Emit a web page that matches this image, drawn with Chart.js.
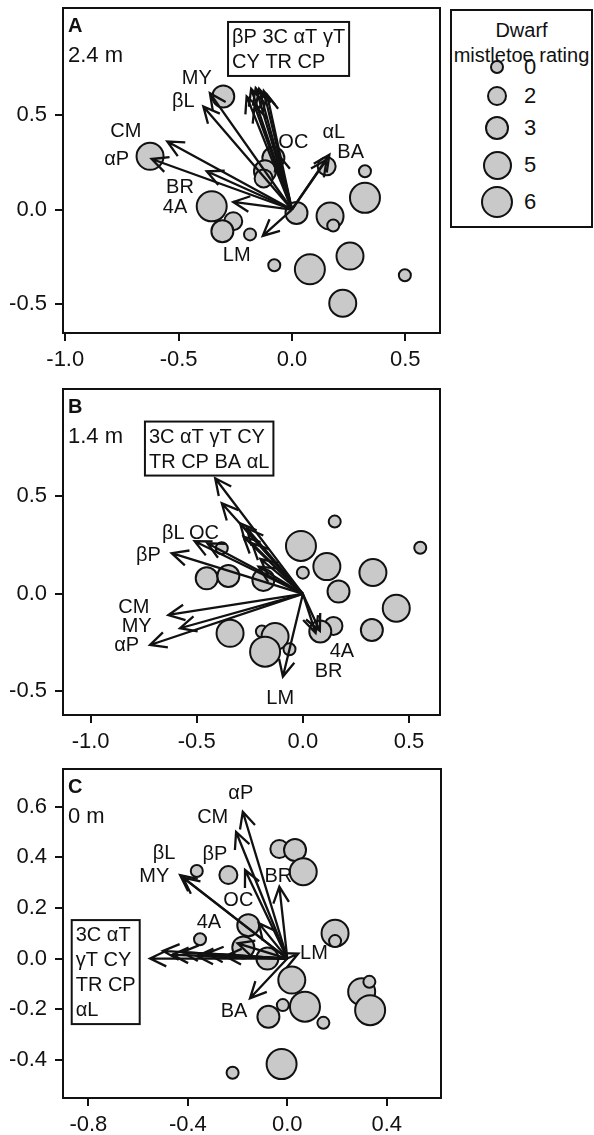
<!DOCTYPE html>
<html>
<head>
<meta charset="utf-8">
<script src="https://cdn.jsdelivr.net/npm/chart.js@4/dist/chart.umd.min.js"></script>
<style>
  body { margin: 0; background: #fff; width: 594px; height: 1135px; position: relative; overflow: hidden;
         font-family: 'Liberation Sans', Arial, sans-serif; color: #111; }
  canvas { position: absolute; left: 0; }
  #legend { position: absolute; left: 450px; top: 9px; width: 143px; height: 219px; box-sizing: border-box;
            border: 2px solid #111; }
  #legend .t { position: absolute; left: 0; width: 100%; text-align: center; font-size: 20px; line-height: 24px; }
  #legend .dot { position: absolute; box-sizing: border-box; border: 2px solid #111; border-radius: 50%; background: #c9c9c9; }
  #legend .n { position: absolute; left: 72px; font-size: 22px; line-height: 26px; }
</style>
</head>
<body>
<canvas id="chartA" width="450" height="372" style="top:0px"></canvas>
<canvas id="chartB" width="450" height="372" style="top:380px"></canvas>
<canvas id="chartC" width="450" height="375" style="top:760px"></canvas>
<div id="legend"></div>
<script>
// variable names, same order for every panel's vectors
const vecNames = ['3C', 'αT', 'γT', 'CY', 'TR', 'CP', 'βP', 'αL', 'BA', 'MY', 'βL', 'CM', 'αP', 'BR', '4A', 'LM', 'OC'];
const legendRatings = [0, 2, 3, 5, 6];

// A: 2.4 m
const treeA_x = [-0.303, -0.626, -0.082, -0.119, -0.125, 0.153, 0.322, 0.322, 0.02, 0.168, 0.182, -0.354, -0.259, -0.307, -0.185, -0.078, 0.079, 0.256, 0.498, 0.224];
const treeA_y = [0.60, 0.282, 0.273, 0.203, 0.165, 0.229, 0.203, 0.062, -0.018, -0.035, -0.085, 0.017, -0.062, -0.115, -0.132, -0.296, -0.317, -0.247, -0.349, -0.497];
const treeA_rating = [3, 5, 3, 3, 2, 2, 0, 6, 3, 5, 0, 6, 2, 3, 0, 0, 6, 5, 0, 5];
const vecA_x = [-0.18, -0.16, -0.145, -0.125, -0.11, -0.165, -0.20, 0.165, 0.153, -0.362, -0.391, -0.55, -0.619, -0.376, -0.259, -0.129, -0.06];
const vecA_y = [0.64, 0.645, 0.64, 0.63, 0.61, 0.55, 0.60, 0.291, 0.265, 0.617, 0.547, 0.361, 0.268, 0.203, 0.04, -0.14, 0.29];
const labA_text = ['MY', 'βL', 'CM', 'αP', 'BR', '4A', 'LM', 'OC', 'αL', 'BA'];
const labA_x = [-0.42, -0.479, -0.733, -0.773, -0.494, -0.516, -0.244, 0.006, 0.185, 0.259];
const labA_y = [0.697, 0.573, 0.414, 0.268, 0.115, 0.009, -0.243, 0.356, 0.409, 0.303];
const boxA_lines = ['βP 3C αT γT', 'CY TR CP'];
const boxA_at = [-0.282, 0.995];

// B: 1.4 m
const treeB_x = [0.15, 0.553, -0.009, 0.113, 0.0, 0.33, 0.168, 0.44, 0.325, 0.144, 0.082, -0.343, -0.193, -0.131, -0.178, -0.063, -0.453, -0.351, -0.382, -0.186];
const treeB_y = [0.371, 0.237, 0.246, 0.14, 0.109, 0.11, 0.012, -0.073, -0.185, -0.164, -0.193, -0.202, -0.193, -0.219, -0.296, -0.284, 0.08, 0.092, 0.234, 0.072];
const treeB_rating = [0, 0, 6, 5, 0, 5, 3, 5, 3, 2, 3, 5, 0, 5, 6, 0, 3, 3, 0, 3];
const vecB_x = [-0.413, -0.382, -0.296, -0.264, -0.28, -0.24, -0.618, -0.20, -0.209, -0.579, -0.51, -0.634, -0.72, 0.06, 0.08, -0.094, -0.45];
const vecB_y = [0.593, 0.465, 0.362, 0.337, 0.294, 0.26, 0.209, 0.18, 0.14, -0.176, 0.27, -0.108, -0.262, -0.2, -0.19, -0.424, 0.26];
const labB_text = ['βL', 'OC', 'βP', 'CM', 'MY', 'αP', '4A', 'BR', 'LM'];
const labB_x = [-0.61, -0.466, -0.728, -0.796, -0.783, -0.83, 0.184, 0.121, -0.107];
const labB_y = [0.311, 0.311, 0.196, -0.07, -0.168, -0.267, -0.296, -0.398, -0.535];
const boxB_lines = ['3C αT γT CY', 'TR CP BA αL'];
const boxB_at = [-0.744, 0.884];

// C: 0 m
const treeC_x = [-0.032, 0.031, 0.064, -0.364, -0.237, -0.157, -0.177, -0.351, -0.08, 0.018, 0.192, 0.192, 0.299, 0.33, 0.333, 0.071, -0.018, -0.076, 0.145, -0.023, -0.22];
const treeC_y = [0.433, 0.429, 0.343, 0.346, 0.33, 0.132, 0.044, 0.076, 0.0, -0.085, 0.1, 0.069, -0.131, -0.092, -0.204, -0.19, -0.184, -0.23, -0.254, -0.417, -0.451];
const treeC_rating = [2, 3, 5, 0, 2, 3, 3, 0, 3, 5, 5, 0, 5, 0, 6, 6, 0, 3, 0, 6, 0];
const vecC_x = [-0.552, -0.50, -0.463, -0.423, -0.363, -0.323, -0.17, -0.25, -0.15, -0.431, -0.42, -0.206, -0.179, -0.032, -0.20, 0.044, -0.115];
const vecC_y = [0.0, 0.03, 0.015, 0.025, 0.01, 0.02, 0.35, 0.01, -0.157, 0.33, 0.32, 0.50, 0.58, 0.284, 0.06, 0.02, 0.14];
const labC_text = ['αP', 'CM', 'βL', 'βP', 'MY', 'BR', 'OC', '4A', 'LM', 'BA'];
const labC_x = [-0.187, -0.3, -0.496, -0.291, -0.535, -0.036, -0.197, -0.315, 0.107, -0.214];
const labC_y = [0.653, 0.558, 0.416, 0.413, 0.326, 0.326, 0.228, 0.142, 0.02, -0.21];
const boxC_lines = ['3C αT', 'γT CY', 'TR CP', 'αL'];
const boxC_at = [-0.867, 0.152];

// ticks
const xTicksAB = [-1.0, -0.5, 0.0, 0.5];
const xTickLabelsAB = ['-1.0', '-0.5', '0.0', '0.5'];
const yTicksAB = [-0.5, 0.0, 0.5];
const yTickLabelsAB = ['-0.5', '0.0', '0.5'];
const xTicksC = [-0.8, -0.4, 0.0, 0.4];
const xTickLabelsC = ['-0.8', '-0.4', '0.0', '0.4'];
const yTicksC = [-0.4, -0.2, 0.0, 0.2, 0.4, 0.6];
const yTickLabelsC = ['-0.4', '-0.2', '0.0', '0.2', '0.4', '0.6'];

const radius = { 0: 6, 2: 9, 3: 11, 5: 13.5, 6: 15 };
const INK = '#111';
const FILL = '#c9c9c9';
const FONT = "'Liberation Sans', Arial, sans-serif";

Chart.defaults.font.family = FONT;
Chart.defaults.color = INK;
// keep the plot box where the axes put it, bubbles may touch the frame
Chart.BubbleController.prototype.getMaxOverflow = function () { return 0; };

function makeBiplot(p) {
  return {
    id: 'biplot',
    afterDatasetsDraw(chart) {
      const { ctx, chartArea: a, scales: { x, y } } = chart;
      ctx.save();
      ctx.strokeStyle = INK;
      ctx.lineWidth = 2.3;
      const x0 = x.getPixelForValue(0), y0 = y.getPixelForValue(0);
      p.vx.forEach((vx, i) => {
        const px = x.getPixelForValue(vx), py = y.getPixelForValue(p.vy[i]);
        const ang = Math.atan2(py - y0, px - x0);
        const hl = 18, sp = 0.45;
        ctx.beginPath();
        ctx.moveTo(x0, y0);
        ctx.lineTo(px, py);
        ctx.moveTo(px - hl * Math.cos(ang - sp), py - hl * Math.sin(ang - sp));
        ctx.lineTo(px, py);
        ctx.lineTo(px - hl * Math.cos(ang + sp), py - hl * Math.sin(ang + sp));
        ctx.stroke();
      });

      ctx.lineWidth = 2;
      ctx.fillStyle = INK;
      ctx.font = '20px ' + FONT;
      ctx.textAlign = 'center';
      ctx.textBaseline = 'middle';
      p.labText.forEach((t, i) => {
        ctx.fillText(t, x.getPixelForValue(p.labX[i]), y.getPixelForValue(p.labY[i]));
      });

      // boxed group of labels
      const bx = x.getPixelForValue(p.boxAt[0]), by = y.getPixelForValue(p.boxAt[1]);
      const bw = Math.max(...p.boxLines.map(l => ctx.measureText(l).width)) + 8;
      const bh = p.boxLines.length * 25 + 4;
      ctx.fillStyle = '#fff';
      ctx.fillRect(bx, by, bw, bh);
      ctx.strokeRect(bx, by, bw, bh);
      ctx.fillStyle = INK;
      ctx.textAlign = 'left';
      p.boxLines.forEach((l, i) => ctx.fillText(l, bx + 4, by + 3 + 25 * (i + 0.5)));

      // frame, panel letter and height
      ctx.strokeRect(a.left, a.top, a.right - a.left, a.bottom - a.top);
      ctx.textBaseline = 'alphabetic';
      ctx.font = 'bold 20px ' + FONT;
      ctx.fillText(p.letter, a.left + 5, a.top + 24);
      ctx.font = '22px ' + FONT;
      ctx.fillText(p.depth, a.left + 5, a.top + 54);
      ctx.restore();
    }
  };
}

function makePanel(id, p) {
  const pts = p.tx.map((v, i) => ({ x: v, y: p.ty[i], r: radius[p.rating[i]] }));
  const tickFont = { size: 22 };
  return new Chart(document.getElementById(id), {
    type: 'bubble',
    data: {
      datasets: [{
        data: pts,
        backgroundColor: FILL,
        borderColor: INK,
        borderWidth: 2
      }]
    },
    options: {
      responsive: false,
      animation: false,
      layout: { padding: { top: p.padTop, right: p.padRight, left: 0, bottom: 0 } },
      scales: {
        x: {
          type: 'linear', min: p.xMin, max: p.xMax,
          afterBuildTicks: s => { s.ticks = p.xTicks.map(v => ({ value: v })); },
          afterFit: s => { s.height = p.xHeight; s.paddingLeft = 0; s.paddingRight = 0; },
          ticks: {
            font: tickFont, color: INK, padding: 6, maxRotation: 0, autoSkip: false,
            callback: v => p.xLabels[p.xTicks.indexOf(v)]
          },
          grid: { drawOnChartArea: false, drawTicks: true, tickLength: 8, color: INK, lineWidth: 2 },
          border: { display: false }
        },
        y: {
          type: 'linear', min: p.yMin, max: p.yMax,
          afterBuildTicks: s => { s.ticks = p.yTicks.map(v => ({ value: v })); },
          afterFit: s => { s.width = 63; s.paddingTop = 0; s.paddingBottom = 0; },
          ticks: {
            font: tickFont, color: INK, padding: 8, autoSkip: false,
            callback: v => p.yLabels[p.yTicks.indexOf(v)]
          },
          grid: { drawOnChartArea: false, drawTicks: true, tickLength: 8, color: INK, lineWidth: 2 },
          border: { display: false }
        }
      },
      plugins: { legend: { display: false }, tooltip: { enabled: false } }
    },
    plugins: [makeBiplot(p)]
  });
}

makePanel('chartA', {
  tx: treeA_x, ty: treeA_y, rating: treeA_rating,
  vx: vecA_x, vy: vecA_y, labText: labA_text, labX: labA_x, labY: labA_y,
  boxLines: boxA_lines, boxAt: boxA_at, letter: 'A', depth: '2.4 m',
  xMin: -1.01, xMax: 0.653, yMin: -0.655, yMax: 1.069,
  xTicks: xTicksAB, xLabels: xTickLabelsAB, yTicks: yTicksAB, yLabels: yTickLabelsAB,
  padTop: 8, padRight: 10, xHeight: 39
});

makePanel('chartB', {
  tx: treeB_x, ty: treeB_y, rating: treeB_rating,
  vx: vecB_x, vy: vecB_y, labText: labB_text, labX: labB_x, labY: labB_y,
  boxLines: boxB_lines, boxAt: boxB_at, letter: 'B', depth: '1.4 m',
  xMin: -1.13, xMax: 0.646, yMin: -0.621, yMax: 1.051,
  xTicks: xTicksAB, xLabels: xTickLabelsAB, yTicks: yTicksAB, yLabels: yTickLabelsAB,
  padTop: 9, padRight: 10, xHeight: 37
});

makePanel('chartC', {
  tx: treeC_x, ty: treeC_y, rating: treeC_rating,
  vx: vecC_x, vy: vecC_y, labText: labC_text, labX: labC_x, labY: labC_y,
  boxLines: boxC_lines, boxAt: boxC_at, letter: 'C', depth: '0 m',
  xMin: -0.902, xMax: 0.618, yMin: -0.551, yMax: 0.749,
  xTicks: xTicksC, xLabels: xTickLabelsC, yTicks: yTicksC, yLabels: yTickLabelsC,
  padTop: 9, padRight: 9, xHeight: 37
});

// size legend
const legend = document.getElementById('legend');
legend.innerHTML = '<div class="t" style="top:7px">Dwarf</div><div class="t" style="top:32px">mistletoe rating</div>';
const legendY = [56, 85, 117, 154, 191];
legendRatings.forEach((r, i) => {
  const d = (radius[r] + 1) * 2;
  const dot = document.createElement('div');
  dot.className = 'dot';
  dot.style.width = d + 'px';
  dot.style.height = d + 'px';
  dot.style.left = (45 - d / 2) + 'px';
  dot.style.top = (legendY[i] - d / 2) + 'px';
  legend.appendChild(dot);
  const n = document.createElement('div');
  n.className = 'n';
  n.textContent = r;
  n.style.top = (legendY[i] - 13) + 'px';
  legend.appendChild(n);
});
</script>
</body>
</html>
